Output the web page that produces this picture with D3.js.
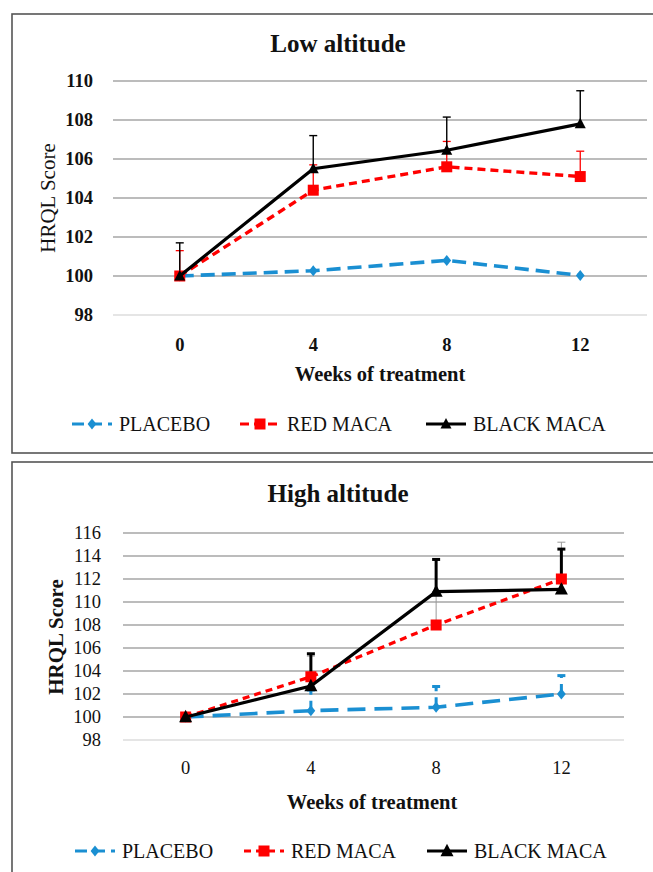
<!DOCTYPE html>
<html lang="en">
<head>
<meta charset="UTF-8">
<script src="https://d3js.org/d3.v7.min.js"></script>
<title>HRQL Score</title>
<style>
  body { margin: 0; background: white; }
  svg { display: block; }
  svg text { font-family: "Liberation Serif", "Times New Roman", Times, serif !important; fill: #111; }
</style>
</head>
<body>
<svg id="chart" width="653" height="872"></svg>
<script>
// data
const weeks = ["0", "4", "8", "12"];
const seriesNames = ["PLACEBO", "RED MACA", "BLACK MACA"];

const lowPlacebo = [100, 100.27, 100.8, 100.03];
const lowRed = [100, 104.4, 105.6, 105.1];
const lowRedErr = [1.3, 1.3, 1.3, 1.3];
const lowBlack = [100, 105.5, 106.45, 107.8];
const lowBlackErr = [1.7, 1.7, 1.7, 1.7];
const lowTicks = [98, 100, 102, 104, 106, 108, 110];

const highPlacebo = [100, 100.55, 100.85, 102.0];
const highPlaceboErr = [0, 1.8, 1.8, 1.6];
const highRed = [100, 103.5, 108.0, 112.0];
const highRedErr = [0, 1.8, 2.9, 3.2];
const highBlack = [100, 102.7, 110.9, 111.1];
const highBlackErr = [0, 2.8, 2.8, 3.5];
const highTicks = [98, 100, 102, 104, 106, 108, 110, 112, 114, 116];

const svg = d3.select("#chart");

// frames
svg.append("rect").attr("x", 12).attr("y", 14).attr("width", 660).attr("height", 439)
   .attr("fill", "none").attr("stroke", "#555").attr("stroke-width", 1.6);
svg.append("rect").attr("x", 12).attr("y", 462).attr("width", 660).attr("height", 430)
   .attr("fill", "none").attr("stroke", "#555").attr("stroke-width", 1.6);

const blue = "#1a8fd2", red = "#ff0000", black = "#000";

function marker(g, type, x, y, color, s) {
    if (type === "diamond") {
        g.append("path").attr("d", `M${x},${y - s}L${x + s * 0.8},${y}L${x},${y + s}L${x - s * 0.8},${y}Z`).attr("fill", color);
    } else if (type === "square") {
        g.append("rect").attr("x", x - s).attr("y", y - s).attr("width", 2 * s).attr("height", 2 * s).attr("fill", color);
    } else {
        g.append("path").attr("d", `M${x},${y - s * 1.1}L${x + s},${y + s * 0.8}L${x - s},${y + s * 0.8}Z`).attr("fill", color);
    }
}

function drawPanel(p) {
    const g = svg.append("g");
    const x = d3.scaleBand().domain(weeks).range([p.left, p.right]);
    const cx = d => x(d) + x.bandwidth() / 2;
    const y = d3.scaleLinear().domain([p.ticks[0], p.ticks[p.ticks.length - 1]]).range([p.bottom, p.top]);

    // gridlines
    g.selectAll(".grid").data(p.ticks).enter().append("line")
     .attr("x1", p.left).attr("x2", p.right)
     .attr("y1", d => y(d)).attr("y2", d => y(d))
     .attr("stroke", (d, i) => i === 0 ? "#ddd" : "#a6a6a6").attr("stroke-width", 1.6);

    // y tick labels
    const yAxis = d3.axisLeft(y).tickValues(p.ticks).tickSize(0).tickPadding(0);
    const ya = g.append("g").attr("transform", `translate(${p.yLabelX},0)`).call(yAxis);
    ya.select(".domain").remove();
    ya.selectAll("text").attr("font-size", 18.5).attr("font-weight", p.tickWeight).attr("fill", "#111");

    // x tick labels
    const xAxis = d3.axisBottom(x).tickSize(0).tickPadding(0);
    const xa = g.append("g").attr("transform", `translate(0,${p.xLabelY})`).call(xAxis);
    xa.select(".domain").remove();
    xa.selectAll("text").attr("font-size", 18.5).attr("font-weight", p.tickWeight)
      .attr("fill", "#111").attr("dy", "0.35em");

    // titles
    g.append("text").attr("x", p.titleX).attr("y", p.titleY).attr("text-anchor", "middle")
     .attr("dominant-baseline", "central").attr("font-size", 25).attr("font-weight", "bold").text(p.title);
    g.append("text").attr("x", p.xTitleX).attr("y", p.xTitleY).attr("text-anchor", "middle")
     .attr("dominant-baseline", "central").attr("font-size", 20.5).attr("font-weight", "bold").text("Weeks of treatment");
    g.append("text").attr("transform", `translate(${p.yTitleX},${p.yTitleY}) rotate(-90)`)
     .attr("text-anchor", "middle").attr("dominant-baseline", "central")
     .attr("font-size", 21).attr("font-weight", p.yTitleWeight).text("HRQL Score");

    // error bars then lines
    p.series.forEach(s => {
        if (!s.err) return;
        s.values.forEach((v, i) => {
            if (!s.err[i]) return;
            const xx = cx(weeks[i]), y0 = y(v), y1 = y(v + s.err[i]);
            g.append("line").attr("x1", xx).attr("x2", xx).attr("y1", y0).attr("y2", y1)
             .attr("stroke", s.errColor).attr("stroke-width", s.errWidth)
             .attr("stroke-dasharray", s.errDash || null);
            g.append("line").attr("x1", xx - 4).attr("x2", xx + 4).attr("y1", y1).attr("y2", y1)
             .attr("stroke", s.errColor).attr("stroke-width", s.errWidth);
        });
    });

    const line = d3.line().x((d, i) => cx(weeks[i])).y(d => y(d));
    p.series.forEach(s => {
        g.append("path").datum(s.values).attr("d", line).attr("fill", "none")
         .attr("stroke", s.color).attr("stroke-width", s.width || 3.2).attr("stroke-dasharray", s.dash);
        s.values.forEach((v, i) => marker(g, s.marker, cx(weeks[i]), y(v), s.color, s.size));
    });

    // legend
    p.series.forEach((s, i) => {
        const lx = p.legendX[i], ly = p.legendY;
        g.append("line").attr("x1", lx).attr("x2", lx + 40).attr("y1", ly).attr("y2", ly)
         .attr("stroke", s.color).attr("stroke-width", 3.2).attr("stroke-dasharray", s.legendDash);
        marker(g, s.marker, lx + 20, ly, s.color, s.size);
        g.append("text").attr("x", lx + 47).attr("y", ly).attr("dominant-baseline", "central")
         .attr("font-size", 20).text(seriesNames[i]);
    });
}

drawPanel({
    title: "Low altitude", titleX: 338, titleY: 43,
    left: 113, right: 647, top: 81, bottom: 315, ticks: lowTicks,
    yLabelX: 93, xLabelY: 345, tickWeight: "bold",
    xTitleX: 380, xTitleY: 374, yTitleX: 48, yTitleY: 198, yTitleWeight: "normal",
    legendX: [72, 240, 426], legendY: 424,
    series: [
        { values: lowPlacebo, color: blue, width: 3.6, dash: "14,7", legendDash: "12,6", marker: "diamond", size: 5.5 },
        { values: lowRed, err: lowRedErr, errColor: red, errWidth: 1.3, color: red, width: 3.4, dash: "8,5", legendDash: "9,5", marker: "square", size: 5.5 },
        { values: lowBlack, err: lowBlackErr, errColor: black, errWidth: 1.4, color: black, dash: null, legendDash: null, marker: "triangle", size: 5.5 }
    ]
});

drawPanel({
    title: "High altitude", titleX: 338, titleY: 493,
    left: 123, right: 624, top: 533, bottom: 740, ticks: highTicks,
    yLabelX: 101, xLabelY: 768, tickWeight: "normal",
    xTitleX: 372, xTitleY: 802, yTitleX: 56, yTitleY: 637, yTitleWeight: "bold",
    legendX: [75, 244, 427], legendY: 851,
    series: [
        { values: highPlacebo, err: highPlaceboErr, errColor: blue, errWidth: 3, errDash: "10,6", color: blue, width: 3.6, dash: "18,9", legendDash: "12,6", marker: "diamond", size: 5.5 },
        { values: highRed, err: highRedErr, errColor: "#999", errWidth: 1, color: red, dash: "7,5", legendDash: "7,5", marker: "square", size: 5.5 },
        { values: highBlack, err: highBlackErr, errColor: black, errWidth: 3, color: black, dash: null, legendDash: null, marker: "triangle", size: 6.5 }
    ]
});
</script>
</body>
</html>
